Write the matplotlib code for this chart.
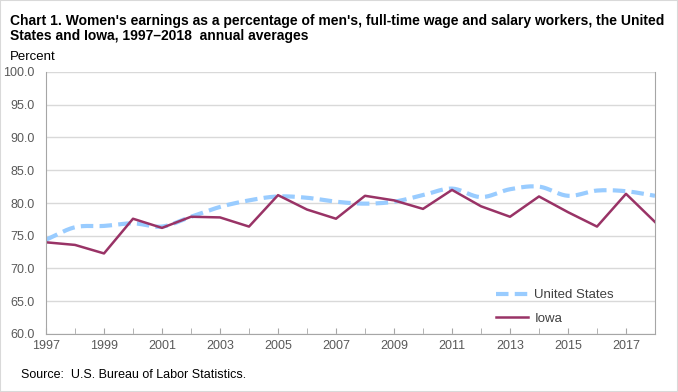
import numpy as np
import matplotlib.pyplot as plt
from matplotlib.patches import Rectangle

plt.rcParams['font.family'] = ['Liberation Sans', 'DejaVu Sans']

years = list(range(1997, 2019))
us_values = [74.4, 76.3, 76.5, 76.9, 76.4, 77.9, 79.4, 80.4, 81.0, 80.8, 80.2,
             79.9, 80.2, 81.2, 82.2, 80.9, 82.1, 82.5, 81.1, 81.9, 81.8, 81.1]
iowa_values = [74.0, 73.6, 72.3, 77.6, 76.2, 77.9, 77.8, 76.4, 81.2, 79.0, 77.6,
               81.1, 80.4, 79.1, 82.0, 79.5, 77.9, 81.0, 78.6, 76.4, 81.4, 77.1]
y_ticks = [60, 65, 70, 75, 80, 85, 90, 95, 100]
x_labels = list(range(1997, 2018, 2))

grey = '#595959'
axis_grey = '#a6a6a6'

fig = plt.figure(figsize=(6.78, 3.92), dpi=100)
ax = fig.add_axes([46 / 678, 58 / 392, 609 / 678, 262 / 392])

# smoothed US line (Excel-style smoothing via catmull-rom)
def smooth(xs, ys, n=20):
    xs = np.array(xs, float)
    ys = np.array(ys, float)
    px = np.concatenate([[2 * xs[0] - xs[1]], xs, [2 * xs[-1] - xs[-2]]])
    py = np.concatenate([[2 * ys[0] - ys[1]], ys, [2 * ys[-1] - ys[-2]]])
    out_x, out_y = [], []
    for i in range(1, len(px) - 2):
        t = np.linspace(0, 1, n, endpoint=False)
        for arr, out in ((px, out_x), (py, out_y)):
            p0, p1, p2, p3 = arr[i - 1], arr[i], arr[i + 1], arr[i + 2]
            out.extend(0.5 * ((2 * p1) + (-p0 + p2) * t
                              + (2 * p0 - 5 * p1 + 4 * p2 - p3) * t ** 2
                              + (-p0 + 3 * p1 - 3 * p2 + p3) * t ** 3))
    out_x.append(xs[-1])
    out_y.append(ys[-1])
    return out_x, out_y

sx, sy = smooth(years, us_values)
ax.plot(sx, sy, color='#99ccff', lw=3, dashes=(3, 1.5), label='United States')
ax.plot(years, iowa_values, color='#993366', lw=1.8, label='Iowa')

ax.set_xlim(1997, 2018)
ax.set_ylim(60, 100)
ax.set_yticks(y_ticks)
ax.set_yticklabels([f'{v:.1f}' for v in y_ticks])
ax.set_xticks(years, minor=True)
ax.set_xticks(x_labels)
ax.tick_params(axis='y', length=0, colors=grey, labelsize=9, pad=8)
ax.tick_params(axis='x', which='both', length=4, color=axis_grey, colors=grey,
               labelsize=9, pad=4, direction='in')
ax.tick_params(axis='x', which='minor', color=axis_grey)
for tl in ax.get_xticklabels() + ax.get_yticklabels():
    tl.set_color(grey)

ax.grid(axis='y', color='#d9d9d9', lw=1)
ax.set_axisbelow(True)
for side in ['left', 'bottom', 'right']:
    ax.spines[side].set_color(axis_grey)
ax.spines['top'].set_visible(False)

leg = ax.legend(loc='upper left', bbox_to_anchor=(0.739, 0.172), frameon=False,
                fontsize=9.5, handlelength=2.4, handletextpad=0.5,
                labelspacing=0.85, borderpad=0, borderaxespad=0)
for t in leg.get_texts():
    t.set_color('#404040')

fig.text(10 / 678, 1 - 14 / 392,
         "Chart 1. Women's earnings as a percentage of men's, full-time wage and salary workers, the United\n"
         "States and Iowa, 1997\u20132018  annual averages",
         fontsize=10, fontweight='bold', va='top', ha='left', linespacing=1.1)
fig.text(10 / 678, 1 - 57 / 392, 'Percent', fontsize=9.5, va='center', ha='left')
fig.text(21 / 678, 1 - 375 / 392, 'Source:  U.S. Bureau of Labor Statistics.',
         fontsize=9, va='center', ha='left')

fig.patches.append(Rectangle((0, 0), 1, 1, transform=fig.transFigure,
                             fill=False, edgecolor='#d9d9d9', lw=1.5))

fig.savefig('out.png', dpi=100)
